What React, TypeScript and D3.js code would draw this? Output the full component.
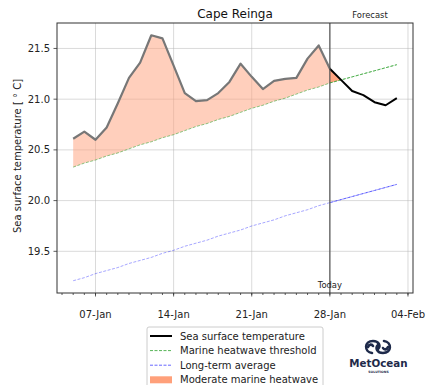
import React, { useEffect, useRef } from 'react';
import * as d3 from 'd3';

// daily values, first day is 05-Jan
const startDay = new Date(Date.UTC(2022, 0, 5));
const todayIndex = 23; // 28-Jan

const sstObserved = [
  20.61, 20.68, 20.6, 20.72, 20.96, 21.21, 21.36, 21.63, 21.6, 21.33, 21.06, 20.98,
  20.99, 21.06, 21.17, 21.35, 21.22, 21.1, 21.18, 21.2, 21.21, 21.4, 21.53, 21.3,
];
// forecast from 28-Jan to 03-Feb
const sstForecast = [21.3, 21.19, 21.08, 21.04, 20.97, 20.94, 21.01];

const threshold = [
  20.33, 20.37, 20.4, 20.44, 20.47, 20.51, 20.55, 20.58, 20.62, 20.65, 20.69, 20.73,
  20.76, 20.8, 20.83, 20.87, 20.91, 20.94, 20.98, 21.01, 21.05, 21.09, 21.12, 21.16,
  21.19, 21.22, 21.25, 21.28, 21.31, 21.34,
];
const longTermAvg = [
  19.21, 19.24, 19.28, 19.31, 19.34, 19.38, 19.41, 19.44, 19.48, 19.51, 19.55, 19.58,
  19.61, 19.65, 19.68, 19.71, 19.75, 19.78, 19.81, 19.85, 19.88, 19.91, 19.95, 19.98,
  20.01, 20.04, 20.07, 20.1, 20.13, 20.16,
];
const yTicks = [19.5, 20.0, 20.5, 21.0, 21.5];

const legendItems = [
  { label: 'Sea surface temperature', kind: 'line', color: '#000', dash: null, opacity: 1 },
  { label: 'Marine heatwave threshold', kind: 'line', color: '#2ca02c', dash: '3,1.5', opacity: 0.8 },
  { label: 'Long-term average', kind: 'line', color: '#0000ff', dash: '3,1.5', opacity: 0.6 },
  { label: 'Moderate marine heatwave', kind: 'patch', color: '#ffa07a', dash: null, opacity: 1 },
];

const W = 433;
const H = 385;
const m = { left: 57, right: 413, top: 23, bottom: 293 };

export default function App() {
  const ref = useRef(null);

  useEffect(() => {
    const svg = d3.select(ref.current);
    svg.selectAll('*').remove();

    const day = (i) => d3.utcDay.offset(startDay, i);
    const obs = sstObserved.map((v, i) => ({ d: day(i), v, t: threshold[i] }));
    const fc = sstForecast.map((v, i) => ({ d: day(todayIndex + i), v, t: threshold[todayIndex + i] }));
    const all = threshold.map((t, i) => ({ d: day(i), t, a: longTermAvg[i] }));

    const d0 = day(0);
    const d1 = day(threshold.length - 1);
    const pad = (d1 - d0) * 0.05;
    const x = d3.scaleUtc().domain([new Date(+d0 - pad), new Date(+d1 + pad)]).range([m.left, m.right]);

    const vals = [...sstObserved, ...sstForecast, ...threshold, ...longTermAvg];
    const [lo, hi] = d3.extent(vals);
    const yp = (hi - lo) * 0.05;
    const y = d3.scaleLinear().domain([lo - yp, hi + yp]).range([m.bottom, m.top]);

    const font = 'DejaVu Sans, sans-serif';
    const today = day(todayIndex);
    const majors = d3.utcFriday.range(x.domain()[0], x.domain()[1]);
    const minors = d3.utcDay.range(x.domain()[0], x.domain()[1]);

    // grid
    const grid = svg.append('g').attr('stroke', '#b0b0b0').attr('stroke-opacity', 0.6).attr('stroke-width', 0.8);
    grid.selectAll('.gx').data(majors).enter().append('line')
      .attr('x1', (d) => x(d)).attr('x2', (d) => x(d)).attr('y1', m.top).attr('y2', m.bottom);
    grid.selectAll('.gy').data(yTicks).enter().append('line')
      .attr('x1', m.left).attr('x2', m.right).attr('y1', (d) => y(d)).attr('y2', (d) => y(d));

    // heatwave fills
    const area = d3.area().x((d) => x(d.d)).y0((d) => y(d.t)).y1((d) => y(Math.max(d.v, d.t)));
    svg.append('path').datum(obs).attr('d', area).attr('fill', '#ffa07a').attr('fill-opacity', 0.5);
    svg.append('path').datum(fc).attr('d', area).attr('fill', '#ffa07a').attr('fill-opacity', 0.95);

    // threshold + average
    const thrLine = d3.line().x((d) => x(d.d)).y((d) => y(d.t));
    const avgLine = d3.line().x((d) => x(d.d)).y((d) => y(d.a));
    svg.append('path').datum(all).attr('d', thrLine).attr('fill', 'none')
      .attr('stroke', '#2ca02c').attr('stroke-opacity', 0.55).attr('stroke-width', 1).attr('stroke-dasharray', '3,1.5');
    svg.append('path').datum(all.slice(todayIndex)).attr('d', thrLine).attr('fill', 'none')
      .attr('stroke', '#2ca02c').attr('stroke-opacity', 0.6).attr('stroke-width', 1).attr('stroke-dasharray', '3,1.5');
    svg.append('path').datum(all).attr('d', avgLine).attr('fill', 'none')
      .attr('stroke', '#0000ff').attr('stroke-opacity', 0.35).attr('stroke-width', 1).attr('stroke-dasharray', '3,1.5');
    svg.append('path').datum(all.slice(todayIndex)).attr('d', avgLine).attr('fill', 'none')
      .attr('stroke', '#0000ff').attr('stroke-opacity', 0.5).attr('stroke-width', 1).attr('stroke-dasharray', '3,1.5');

    // sst
    const sstLine = d3.line().x((d) => x(d.d)).y((d) => y(d.v));
    svg.append('path').datum(obs).attr('d', sstLine).attr('fill', 'none')
      .attr('stroke', '#777').attr('stroke-width', 2.2).attr('stroke-linejoin', 'round');
    svg.append('path').datum(fc).attr('d', sstLine).attr('fill', 'none')
      .attr('stroke', '#000').attr('stroke-width', 2).attr('stroke-linejoin', 'round');

    // today line
    svg.append('line').attr('x1', x(today)).attr('x2', x(today)).attr('y1', m.top).attr('y2', m.bottom)
      .attr('stroke', '#555').attr('stroke-width', 1.2);

    // frame
    svg.append('rect').attr('x', m.left).attr('y', m.top).attr('width', m.right - m.left).attr('height', m.bottom - m.top)
      .attr('fill', 'none').attr('stroke', '#333').attr('stroke-width', 1);

    // x ticks
    const ax = svg.append('g').attr('stroke', '#333').attr('stroke-width', 0.8);
    ax.selectAll('.mn').data(minors).enter().append('line')
      .attr('x1', (d) => x(d)).attr('x2', (d) => x(d)).attr('y1', m.bottom).attr('y2', m.bottom + 2);
    ax.selectAll('.mj').data(majors).enter().append('line')
      .attr('x1', (d) => x(d)).attr('x2', (d) => x(d)).attr('y1', m.bottom).attr('y2', m.bottom + 3.5);
    svg.selectAll('.xl').data(majors).enter().append('text')
      .attr('x', (d) => x(d)).attr('y', 318).attr('text-anchor', 'middle')
      .style('font-family', font).style('font-size', '10px').attr('fill', '#222')
      .text(d3.utcFormat('%d-%b'));

    // y ticks
    ax.selectAll('.yt').data(yTicks).enter().append('line')
      .attr('x1', m.left - 3.5).attr('x2', m.left).attr('y1', (d) => y(d)).attr('y2', (d) => y(d));
    svg.selectAll('.yl').data(yTicks).enter().append('text')
      .attr('x', m.left - 7).attr('y', (d) => y(d) + 3.6).attr('text-anchor', 'end')
      .style('font-family', font).style('font-size', '10px').attr('fill', '#222')
      .text(d3.format('.1f'));

    // labels
    svg.append('text').attr('transform', `translate(21,${(m.top + m.bottom) / 2 - 2}) rotate(-90)`)
      .attr('text-anchor', 'middle').style('font-family', font).style('font-size', '10px').attr('fill', '#222')
      .text('Sea surface temperature [ ° C]');
    svg.append('text').attr('x', (m.left + m.right) / 2).attr('y', 17.5).attr('text-anchor', 'middle')
      .style('font-family', font).style('font-size', '12px').attr('fill', '#111').text('Cape Reinga');
    svg.append('text').attr('x', 370).attr('y', 17.5).attr('text-anchor', 'middle')
      .style('font-family', font).style('font-size', '8.4px').attr('fill', '#222').text('Forecast');
    svg.append('text').attr('x', x(today)).attr('y', 288).attr('text-anchor', 'middle')
      .style('font-family', font).style('font-size', '8.4px').attr('fill', '#222').text('Today');

    // legend
    const lg = svg.append('g');
    lg.append('rect').attr('x', 147).attr('y', 327).attr('width', 176).attr('height', 62).attr('rx', 2)
      .attr('fill', '#fff').attr('fill-opacity', 0.8).attr('stroke', '#ccc').attr('stroke-width', 1);
    const row = lg.selectAll('.row').data(legendItems).enter().append('g')
      .attr('transform', (d, i) => `translate(150,${336 + i * 14.6})`);
    row.filter((d) => d.kind === 'line').append('line')
      .attr('x1', 0).attr('x2', 22).attr('y1', 0).attr('y2', 0)
      .attr('stroke', (d) => d.color).attr('stroke-opacity', (d) => d.opacity)
      .attr('stroke-width', (d) => (d.dash ? 1 : 2)).attr('stroke-dasharray', (d) => d.dash);
    row.filter((d) => d.kind === 'patch').append('rect')
      .attr('x', 0).attr('y', -3.5).attr('width', 22).attr('height', 7).attr('fill', (d) => d.color);
    row.append('text').attr('x', 30).attr('y', 3.6)
      .style('font-family', font).style('font-size', '10px').attr('fill', '#222')
      .text((d) => d.label);

    // MetOcean logo
    const logo = svg.append('g').attr('fill', 'none').attr('stroke', '#1e2a4a').attr('stroke-width', 2.6)
      .attr('stroke-linecap', 'round');
    logo.append('path').attr('d', 'M372,353 C364,352 364,341 373,341 C379,341 381,346 378,349');
    logo.append('path').attr('d', 'M384,341 C392,342 392,353 383,353 C377,353 375,348 378,345');
    logo.append('path').attr('d', 'M368,347 C369,344 372,344 373,346');
    logo.append('path').attr('d', 'M388,347 C387,350 384,350 383,348');
    svg.append('text').attr('x', 378.5).attr('y', 366.5).attr('text-anchor', 'middle')
      .style('font-family', font).style('font-size', '10.3px').style('font-weight', 'bold').attr('fill', '#1e2a4a')
      .text('MetOcean');
    svg.append('text').attr('x', 378.5).attr('y', 372.5).attr('text-anchor', 'middle')
      .style('font-family', font).style('font-size', '3.2px').style('font-weight', 'bold').attr('fill', '#1e2a4a')
      .text('SOLUTIONS');
  }, []);

  return (
    <svg ref={ref} width={W} height={H} style={{ position: 'absolute', left: 0, top: 0, background: '#fff' }} />
  );
}
